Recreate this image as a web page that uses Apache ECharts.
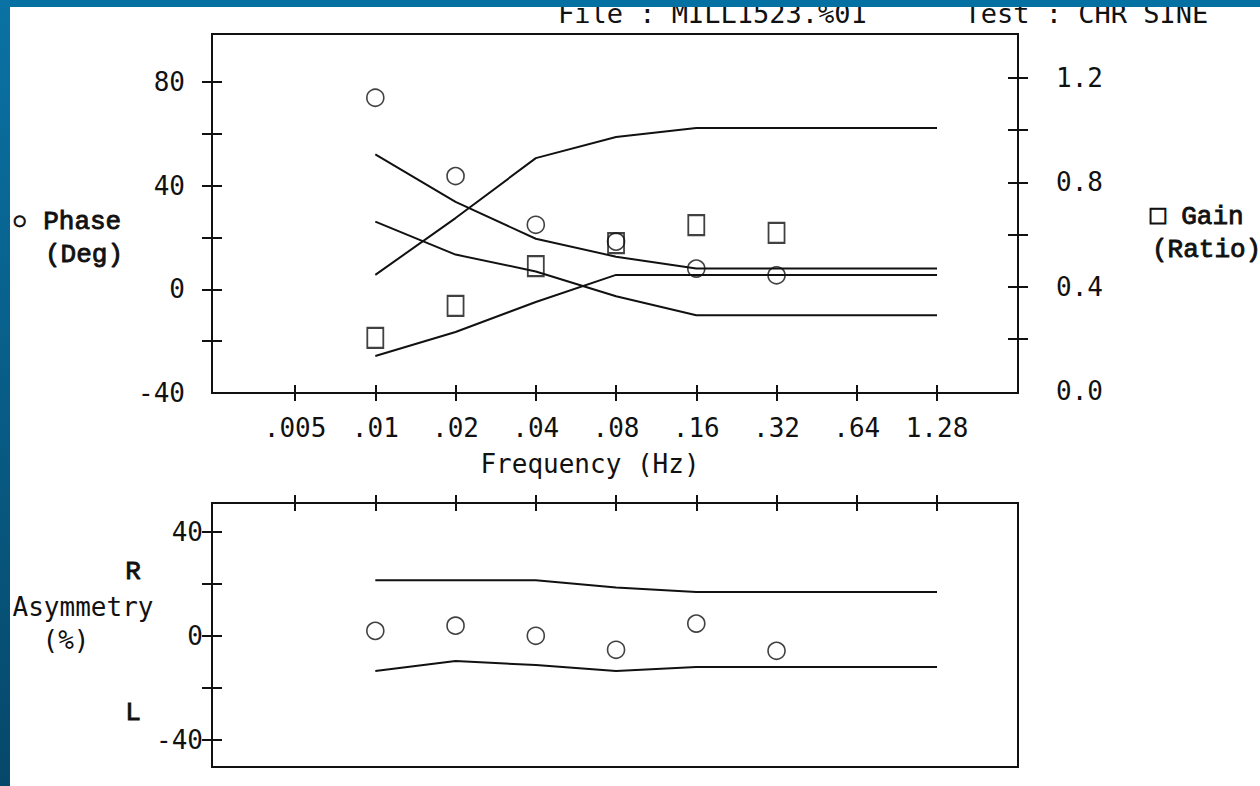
<!DOCTYPE html>
<html>
<head>
<meta charset="utf-8">
<title>Rotational chair - sinusoidal test</title>
<script src="https://cdn.jsdelivr.net/npm/echarts@6/dist/echarts.min.js"></script>
<style>
  html, body { margin: 0; padding: 0; background: #fff; }
  #chart { width: 1260px; height: 786px; }
</style>
</head>
<body>
<div id="chart"></div>
<script>
// frequency ticks shared by both panels (Hz)
const freqTicks = [0.005, 0.01, 0.02, 0.04, 0.08, 0.16, 0.32, 0.64, 1.28]
const freqLabels = ['.005', '.01', '.02', '.04', '.08', '.16', '.32', '.64', '1.28']

// measured points
const testFreq = [0.01, 0.02, 0.04, 0.08, 0.16, 0.32]
const phase = [73.9, 43.7, 24.9, 18.4, 8.0, 5.4]
const gain = [0.203, 0.326, 0.479, 0.567, 0.636, 0.606]
const asymmetry = [1.9, 3.9, 0.0, -5.4, 4.7, -5.8]

// normal limits
const limitFreq = [0.01, 0.02, 0.04, 0.08, 0.16, 0.32, 0.64, 1.28]
const phaseUpper = [52.1, 33.7, 19.5, 12.6, 8.0, 8.0, 8.0, 8.0]
const phaseLower = [26.1, 13.4, 6.9, -2.7, -10.0, -10.0, -10.0, -10.0]
const gainUpper = [0.445, 0.663, 0.893, 0.974, 1.008, 1.008, 1.008, 1.008]
const gainLower = [0.134, 0.226, 0.341, 0.445, 0.445, 0.445, 0.445, 0.445]
const asymUpper = [21.4, 21.4, 21.4, 18.6, 16.9, 16.9, 16.9, 16.9]
const asymLower = [-13.6, -9.7, -11.3, -13.6, -12.0, -12.0, -12.0, -12.0]

// axis ticks / labels
const phaseTicks = [-20, 0, 20, 40, 60, 80]
const phaseLabels = [-40, 0, 40, 80]
const gainTicks = [0.2, 0.4, 0.6, 0.8, 1.0, 1.2]
const gainLabels = [0, 0.4, 0.8, 1.2]
const asymTicks = [-40, -20, 0, 20, 40]
const asymLabels = [-40, 0, 40]

const ink = '#111'
const mono = 'DejaVu Sans Mono'
const serifMono = 'Liberation Mono'

const zip = (xs, ys) => xs.map((x, i) => [x, ys[i]])

const freqName = (v) => {
    const i = freqTicks.findIndex((t) => Math.abs(Math.log2(v / t)) < 0.01)
    return i < 0 ? '' : freqLabels[i]
}

// two copies of each axis: one with ticks outside, one inside -> crossing ticks
function axisPair(base, tickValues, label) {
    const tick = { customValues: tickValues, lineStyle: { color: ink, width: 2 } }
    const line = { show: false, onZero: false }
    return [
        {
            ...base,
            axisLine: line,
            splitLine: { show: false },
            axisTick: { ...tick, inside: false, length: base.tickLen },
            axisLabel: label || { show: false },
        },
        {
            ...base,
            axisLine: line,
            splitLine: { show: false },
            axisTick: { ...tick, inside: true, length: base.tickLen },
            axisLabel: { show: false },
        },
    ]
}

const numLabel = {
    fontFamily: mono,
    fontSize: 26,
    color: ink,
}

const xAxes = [
    ...axisPair(
        { type: 'log', logBase: 2, gridIndex: 0, position: 'bottom', min: 0.00244, max: 2.576, tickLen: 8 },
        freqTicks,
        { ...numLabel, customValues: freqTicks, margin: 22, formatter: freqName }
    ),
    ...axisPair(
        { type: 'log', logBase: 2, gridIndex: 1, position: 'top', min: 0.00244, max: 2.576, tickLen: 8 },
        freqTicks
    ),
]

const yAxes = [
    ...axisPair(
        { type: 'value', gridIndex: 0, position: 'left', min: -40, max: 98.5, tickLen: 10 },
        phaseTicks,
        { ...numLabel, customValues: phaseLabels, margin: 27 }
    ),
    ...axisPair(
        { type: 'value', gridIndex: 0, position: 'right', min: -0.008, max: 1.369, tickLen: 10 },
        gainTicks,
        { ...numLabel, customValues: gainLabels, margin: 38, formatter: (v) => v.toFixed(1) }
    ),
    ...axisPair(
        { type: 'value', gridIndex: 1, position: 'left', min: -50.6, max: 51.2, tickLen: 10 },
        asymTicks,
        { ...numLabel, customValues: asymLabels, margin: 9 }
    ),
]

const hollow = (symbol, size, width) => ({
    type: 'scatter',
    symbol,
    symbolSize: size,
    itemStyle: { color: 'rgba(0,0,0,0)', borderColor: ink, borderWidth: width },
    z: 4,
})

const limitLine = {
    type: 'line',
    symbol: 'none',
    lineStyle: { color: ink, width: 2 },
    z: 3,
}

const series = [
    { ...limitLine, name: 'Phase upper', xAxisIndex: 0, yAxisIndex: 0, data: zip(limitFreq, phaseUpper) },
    { ...limitLine, name: 'Phase lower', xAxisIndex: 0, yAxisIndex: 0, data: zip(limitFreq, phaseLower) },
    { ...limitLine, name: 'Gain upper', xAxisIndex: 0, yAxisIndex: 2, data: zip(limitFreq, gainUpper) },
    { ...limitLine, name: 'Gain lower', xAxisIndex: 0, yAxisIndex: 2, data: zip(limitFreq, gainLower) },
    { ...hollow('circle', 17, 1.6), name: 'Phase', xAxisIndex: 0, yAxisIndex: 0, data: zip(testFreq, phase) },
    { ...hollow('rect', [16, 20], 2), name: 'Gain', xAxisIndex: 0, yAxisIndex: 2, data: zip(testFreq, gain) },
    { ...limitLine, name: 'Asymmetry upper', xAxisIndex: 2, yAxisIndex: 4, data: zip(limitFreq, asymUpper) },
    { ...limitLine, name: 'Asymmetry lower', xAxisIndex: 2, yAxisIndex: 4, data: zip(limitFreq, asymLower) },
    { ...hollow('circle', 17, 1.6), name: 'Asymmetry', xAxisIndex: 2, yAxisIndex: 4, data: zip(testFreq, asymmetry) },
]

const text = (x, y, str, font, extra) => ({
    type: 'text',
    x,
    y,
    style: {
        text: str,
        fontFamily: font,
        fontSize: 26,
        fill: ink,
        verticalAlign: 'middle',
        ...extra,
    },
    z: 10,
})

// serif captions: regular Courier-style face, thickened a little
const serif = { stroke: ink, lineWidth: 0.9 }

const option = {
    backgroundColor: '#fff',
    animation: false,
    grid: [
        { left: 212, top: 34, width: 806, height: 359, show: true, borderColor: ink, borderWidth: 2, backgroundColor: 'transparent' },
        { left: 212, top: 503, width: 806, height: 264, show: true, borderColor: ink, borderWidth: 2, backgroundColor: 'transparent' },
    ],
    xAxis: xAxes,
    yAxis: yAxes,
    series,
    graphic: [
        text(558, 13, 'File : MILL1523.%01      Test : CHR SINE', mono, { fontSize: 27 }),
        text(12, 222, '\u25cb Phase', serifMono, serif),
        text(45, 255, '(Deg)', serifMono, serif),
        text(1150, 217, '\u25a1 Gain', serifMono, serif),
        text(1152, 250, '(Ratio)', serifMono, serif),
        text(590, 464, 'Frequency (Hz)', mono, { align: 'center' }),
        text(133, 572, 'R', serifMono, { ...serif, align: 'center' }),
        text(83, 607, 'Asymmetry', mono, { align: 'center' }),
        text(66, 640, '(%)', mono, { align: 'center' }),
        text(133, 713, 'L', serifMono, { ...serif, align: 'center' }),
        // slide frame edges
        {
            type: 'rect',
            shape: { x: 0, y: 0, width: 1260, height: 7 },
            style: { fill: '#0571a3' },
            z: 100,
        },
        {
            type: 'rect',
            shape: { x: 0, y: 0, width: 10, height: 786 },
            style: {
                fill: new echarts.graphic.LinearGradient(0, 0, 0, 1, [
                    { offset: 0, color: '#0a72a4' },
                    { offset: 1, color: '#06486a' },
                ]),
            },
            z: 100,
        },
    ],
}

const myChart = echarts.init(document.getElementById('chart'), null, { renderer: 'svg' })
myChart.setOption(option)
window.addEventListener('resize', () => myChart.resize())
</script>
</body>
</html>
